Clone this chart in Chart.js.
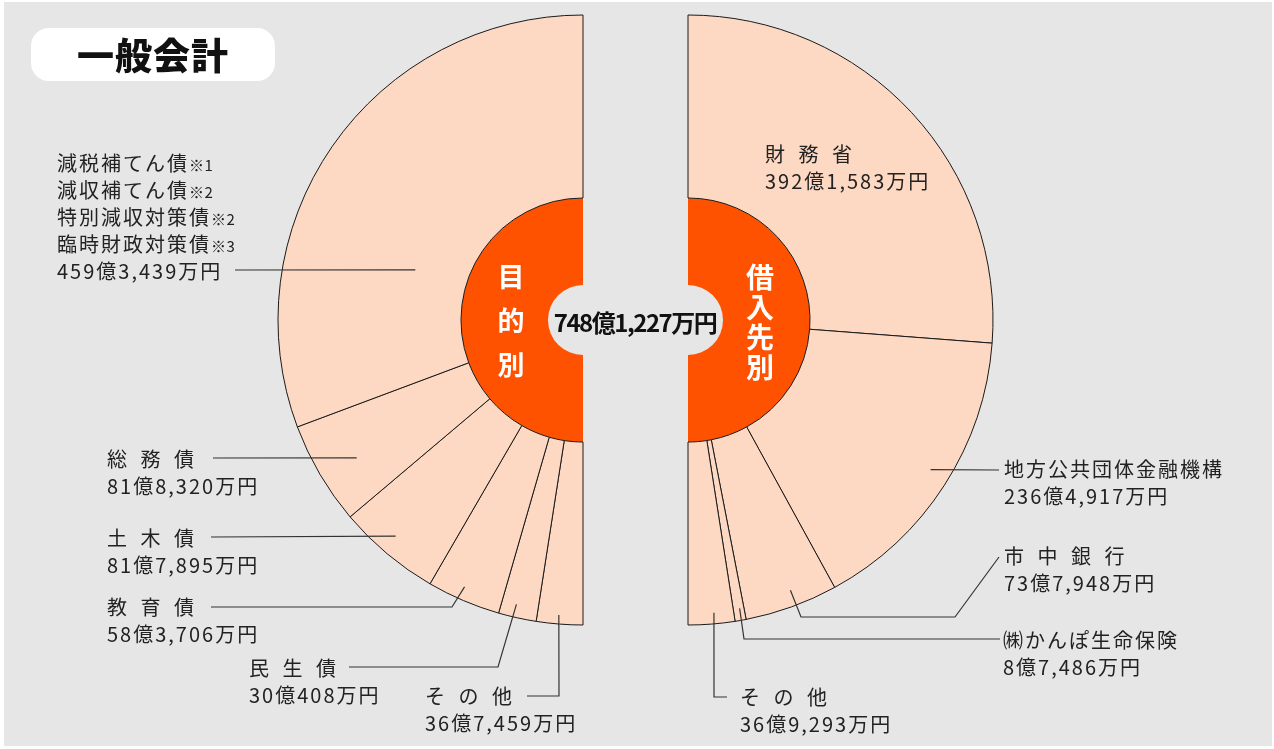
<!DOCTYPE html>
<html lang="ja">
<head>
<meta charset="utf-8">
<script src="https://cdn.jsdelivr.net/npm/chart.js@4"></script>
<style>
  html, body { margin: 0; padding: 0; background: #ffffff; }
  #stage { position: relative; width: 1274px; height: 749px; overflow: hidden; font-family: "Noto Sans CJK JP", "Noto Sans", sans-serif; }
  #bg { position: absolute; left: 4px; top: 2px; width: 1268px; height: 744px; background: #e6e6e6; }
  canvas { position: absolute; left: 0; top: 0; }
  .lbl { position: absolute; font-size: 20px; line-height: 27px; letter-spacing: 2px; color: #222; white-space: pre; }
  .lbl .note { font-size: 15px; letter-spacing: 0.5px; line-height: 1; }
  .lbl .sp { word-spacing: 5px; }
  #title { position: absolute; left: 31px; top: 28px; width: 244px; height: 53px; border-radius: 18px; background: #fff;
           font-size: 37px; font-weight: 900; line-height: 53px; text-align: center; letter-spacing: 1px; color: #111; }
  #total { position: absolute; left: 635px; top: 321px; transform: translate(-50%, -50%); font-size: 24px; font-weight: 700;
           letter-spacing: -1.5px; color: #111; white-space: nowrap; }
  .vert { position: absolute; color: #fff; font-weight: 700; text-align: center; transform: translateX(-50%); }
</style>
</head>
<body>
<div id="stage">
  <div id="bg"></div>
  <canvas id="leftChart" width="1274" height="749"></canvas>
  <canvas id="rightChart" width="1274" height="749"></canvas>
  <div id="title"></div>
  <div id="total"></div>
  <div id="leftCaption" class="vert" style="left:511px; top:254px; font-size:27px; line-height:44px;"></div>
  <div id="rightCaption" class="vert" style="left:760px; top:261px; font-size:28px; line-height:30px;"></div>
</div>
<script>
// ---------- DATA (values in 万円) ----------
const titleText = '一般会計';
const leftCaptionText = '目的別';
const rightCaptionText = '借入先別';

const leftNames = ['減税補てん債※1\n減収補てん債※2\n特別減収対策債※2\n臨時財政対策債※3', '総 務 債', '土 木 債', '教 育 債', '民 生 債', 'そ の 他'];
const leftValues = [4593439, 818320, 817895, 583706, 300408, 367459];

const rightNames = ['財 務 省', '地方公共団体金融機構', '市 中 銀 行', '㈱かんぽ生命保険', 'そ の 他'];
const rightValues = [3921583, 2364917, 737948, 87486, 369293];

// ---------- STYLE / LAYOUT ----------
const PEACH = '#fdd8c2';
const ORANGE = '#ff5200';
const EDGE = '#1a1a1a';
const LEADER = '#333333';
const OUTER_R = 305;

// label block positions: [left x, center y of first line]
const leftLabelPos = [[57, 162], [107, 458], [107, 537], [107, 606], [249, 667], [425, 695]];
const rightLabelPos = [[765, 153], [1004, 468], [1004, 555], [1003, 639], [740, 696]];
// leader lines: fixed elbow points + anchor inside the arc (fraction along the arc, radius)
const leftLeaders = [
  { pts: [[235, 270]], t: 0.336, r: 175 },
  { pts: [[213, 458]], t: 0.45, r: 265 },
  { pts: [[211, 537]], t: 0.55, r: 286 },
  { pts: [[211, 607], [452, 607]], t: 0.56, r: 292 },
  { pts: [[349, 667], [498, 667]], t: 0.6, r: 292 },
  { pts: [[527, 696], [559, 696]], t: 0.53, r: 296 }
];
const rightLeaders = [
  null,
  { pts: [[999, 470]], t: 0.48, r: 285 },
  { pts: [[999, 557], [955, 617], [801, 617]], t: 0.45, r: 289 },
  { pts: [[1000, 639], [744, 639]], t: 0.4, r: 293 },
  { pts: [[727, 697], [714, 697]], t: 0.43, r: 294 }
];

// ---------- helpers ----------
function fmt(v) {
  const oku = Math.floor(v / 10000);
  const man = v % 10000;
  return oku + '億' + man.toLocaleString('en-US') + '万円';
}
function esc(s) { return s.replace(/&/g, '&amp;').replace(/</g, '&lt;'); }
function nameHtml(n) {
  return n.split('\n').map(line => {
    let h = esc(line).replace(/(※\d)/g, '<span class="note">$1</span>');
    if (/ /.test(line)) h = '<span class="sp">' + h + '</span>';
    return h;
  }).join('\n');
}
const stage = document.getElementById('stage');
function addLabel(name, value, pos) {
  const d = document.createElement('div');
  d.className = 'lbl';
  d.style.left = pos[0] + 'px';
  d.style.top = (pos[1] - 13.5) + 'px';
  d.innerHTML = nameHtml(name) + '\n' + fmt(value);
  stage.appendChild(d);
}
leftNames.forEach((n, i) => addLabel(n, leftValues[i], leftLabelPos[i]));
rightNames.forEach((n, i) => addLabel(n, rightValues[i], rightLabelPos[i]));

const total = leftValues.reduce((a, b) => a + b, 0);
document.getElementById('title').textContent = titleText;
document.getElementById('total').textContent = fmt(total);
document.getElementById('leftCaption').innerHTML = leftCaptionText.split('').join('<br>');
document.getElementById('rightCaption').innerHTML = rightCaptionText.split('').join('<br>');

// leader plugin: draws lines from label to a point on the library's arc element
function leaderPlugin(leaders, indexMap) {
  return {
    id: 'leaders',
    afterDatasetsDraw(chart) {
      const ctx = chart.ctx;
      const meta = chart.getDatasetMeta(0);
      ctx.save();
      ctx.strokeStyle = LEADER;
      ctx.lineWidth = 1.2;
      leaders.forEach((ld, i) => {
        if (!ld) return;
        const arc = meta.data[indexMap(i)];
        const p = arc.getProps(['x', 'y', 'startAngle', 'endAngle'], true);
        const a = p.startAngle + ld.t * (p.endAngle - p.startAngle);
        const ax = p.x + ld.r * Math.cos(a);
        const ay = p.y + ld.r * Math.sin(a);
        ctx.beginPath();
        ctx.moveTo(ld.pts[0][0], ld.pts[0][1]);
        for (let k = 1; k < ld.pts.length; k++) ctx.lineTo(ld.pts[k][0], ld.pts[k][1]);
        ctx.lineTo(ax, ay);
        ctx.stroke();
      });
      ctx.restore();
    }
  };
}

function makeChart(id, values, names, rotation, padding, leaders, indexMap) {
  const sum = values.reduce((a, b) => a + b, 0);
  return new Chart(document.getElementById(id), {
    type: 'doughnut',
    data: {
      labels: names,
      datasets: [
        { data: values, backgroundColor: PEACH, borderColor: EDGE, borderWidth: 1, hoverBorderWidth: 1,
          hoverBackgroundColor: PEACH, hoverBorderColor: EDGE, weight: 183, offset: 0, hoverOffset: 0 },
        { data: [sum], backgroundColor: ORANGE, borderWidth: 0, hoverBorderWidth: 0,
          hoverBackgroundColor: ORANGE, weight: 87, offset: 0, hoverOffset: 0 }
      ]
    },
    options: {
      responsive: false,
      animation: false,
      events: [],
      rotation: rotation,
      circumference: 180,
      radius: OUTER_R,
      cutout: (35 / OUTER_R * 100) + '%',
      layout: { padding: padding },
      plugins: { legend: { display: false }, tooltip: { enabled: false } }
    },
    plugins: [leaderPlugin(leaders, indexMap)]
  });
}

// Left half: drawn clockwise from the bottom, so the values are reversed
const leftData = leftValues.slice().reverse();
const leftLabelsRev = leftNames.slice().reverse();
makeChart('leftChart', leftData, leftLabelsRev, 180, { left: 0, right: 413, top: 0, bottom: 109 },
  leftLeaders, i => leftValues.length - 1 - i);
makeChart('rightChart', rightValues, rightNames, 0, { left: 407, right: 0, top: 0, bottom: 109 },
  rightLeaders, i => i);
</script>
</body>
</html>
